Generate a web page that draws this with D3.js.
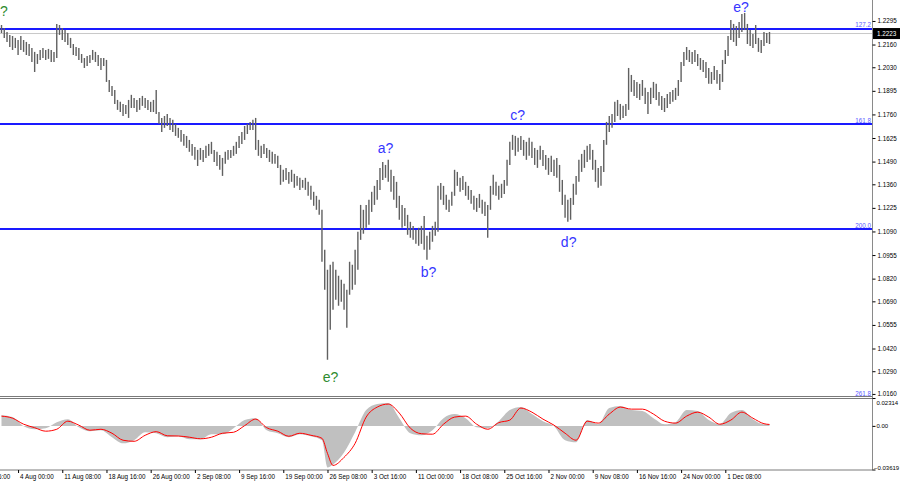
<!DOCTYPE html>
<html><head><meta charset="utf-8">
<script src="https://cdn.jsdelivr.net/npm/d3@7"></script>
<style>
body{margin:0;background:#fff;}
svg{display:block;font-family:"Liberation Sans",Arial,sans-serif;}
</style>
</head><body>
<svg id="c" width="900" height="485"></svg>
<script>
// ---------- DATA ----------
const highs=[1.2272,1.2255,1.2232,1.2215,1.2209,1.2198,1.2186,1.2209,1.2186,1.2175,
1.2163,1.2140,1.2118,1.2106,1.2129,1.2140,1.2129,1.2135,1.2129,1.2118,
1.2278,1.2272,1.2255,1.2243,1.2226,1.2198,1.2163,1.2146,1.2140,1.2106,
1.2083,1.2095,1.2100,1.2129,1.2118,1.2100,1.2083,1.2083,1.2072,1.1957,
1.1923,1.1900,1.1843,1.1832,1.1820,1.1814,1.1843,1.1872,1.1854,1.1843,
1.1854,1.1866,1.1854,1.1843,1.1832,1.1843,1.1900,1.1774,1.1740,1.1751,
1.1763,1.1740,1.1729,1.1706,1.1683,1.1671,1.1648,1.1637,1.1614,1.1591,
1.1574,1.1557,1.1568,1.1557,1.1580,1.1591,1.1603,1.1557,1.1546,1.1528,
1.1511,1.1546,1.1557,1.1557,1.1580,1.1603,1.1637,1.1660,1.1694,1.1706,
1.1717,1.1729,1.1740,1.1614,1.1580,1.1591,1.1568,1.1557,1.1546,1.1534,
1.1523,1.1471,1.1443,1.1454,1.1431,1.1443,1.1420,1.1408,1.1397,1.1385,
1.1397,1.1374,1.1351,1.1317,1.1294,1.1271,1.1214,1.0985,1.0871,1.0899,
1.0916,1.0871,1.0836,1.0813,1.0790,1.0756,1.0916,1.0899,1.0985,1.1088,
1.1242,1.1214,1.1242,1.1271,1.1317,1.1351,1.1385,1.1454,1.1488,1.1471,
1.1500,1.1443,1.1408,1.1374,1.1294,1.1242,1.1225,1.1185,1.1145,1.1122,
1.1099,1.1111,1.1122,1.1179,1.1065,1.1088,1.1122,1.1145,1.1351,1.1368,
1.1351,1.1300,1.1271,1.1317,1.1443,1.1431,1.1397,1.1408,1.1374,1.1351,
1.1328,1.1294,1.1282,1.1305,1.1271,1.1260,1.1242,1.1351,1.1414,1.1374,
1.1351,1.1363,1.1385,1.1500,1.1603,1.1643,1.1637,1.1626,1.1637,1.1614,
1.1603,1.1626,1.1603,1.1568,1.1557,1.1580,1.1557,1.1528,1.1511,1.1523,
1.1500,1.1511,1.1471,1.1385,1.1300,1.1271,1.1282,1.1363,1.1408,1.1500,
1.1534,1.1557,1.1580,1.1591,1.1557,1.1500,1.1454,1.1465,1.1614,1.1717,
1.1751,1.1763,1.1832,1.1843,1.1820,1.1809,1.1820,1.2026,1.1986,1.1957,
1.1946,1.1935,1.1957,1.1912,1.1889,1.1912,1.1946,1.1935,1.1889,1.1866,
1.1854,1.1877,1.1889,1.1900,1.1912,1.1957,1.2060,1.2118,1.2146,1.2129,
1.2118,1.2129,1.2106,1.2083,1.2072,1.2060,1.2026,1.2003,1.2037,1.2015,
1.1992,1.2072,1.2129,1.2209,1.2301,1.2278,1.2266,1.2289,1.2335,1.2341,
1.2278,1.2243,1.2221,1.2272,1.2198,1.2186,1.2232,1.2226,1.2232];
const lows=[1.2226,1.2198,1.2175,1.2146,1.2129,1.2140,1.2100,1.2129,1.2118,1.2100,
1.2095,1.2060,1.2003,1.2049,1.2072,1.2083,1.2072,1.2078,1.2060,1.2060,
1.2083,1.2215,1.2186,1.2175,1.2158,1.2140,1.2100,1.2095,1.2072,1.2055,
1.2026,1.2037,1.2055,1.2072,1.2060,1.2037,1.2015,1.2037,1.1946,1.1889,
1.1866,1.1820,1.1786,1.1774,1.1751,1.1763,1.1740,1.1797,1.1797,1.1774,
1.1786,1.1809,1.1797,1.1786,1.1774,1.1774,1.1763,1.1706,1.1660,1.1683,
1.1694,1.1671,1.1660,1.1637,1.1626,1.1603,1.1580,1.1568,1.1546,1.1523,
1.1500,1.1465,1.1500,1.1488,1.1511,1.1523,1.1534,1.1488,1.1465,1.1443,
1.1408,1.1477,1.1500,1.1511,1.1523,1.1534,1.1568,1.1591,1.1614,1.1648,
1.1671,1.1671,1.1557,1.1523,1.1511,1.1534,1.1511,1.1488,1.1477,1.1477,
1.1454,1.1357,1.1374,1.1385,1.1363,1.1374,1.1340,1.1351,1.1328,1.1340,
1.1328,1.1294,1.1271,1.1237,1.1214,1.1185,1.0916,1.0756,1.0356,1.0527,
1.0642,1.0699,1.0665,1.0688,1.0642,1.0539,1.0728,1.0756,1.0785,1.0871,
1.1042,1.1077,1.1111,1.1128,1.1202,1.1242,1.1271,1.1328,1.1385,1.1397,
1.1374,1.1317,1.1271,1.1225,1.1157,1.1111,1.1122,1.1071,1.1054,1.1042,
1.1019,1.1008,1.1019,1.0985,1.0928,1.0985,1.1031,1.1065,1.1088,1.1271,
1.1242,1.1214,1.1202,1.1237,1.1294,1.1351,1.1317,1.1328,1.1294,1.1271,
1.1248,1.1214,1.1202,1.1225,1.1191,1.1179,1.1054,1.1214,1.1300,1.1294,
1.1271,1.1282,1.1305,1.1351,1.1471,1.1557,1.1523,1.1546,1.1557,1.1523,
1.1500,1.1523,1.1511,1.1471,1.1454,1.1500,1.1465,1.1443,1.1414,1.1431,
1.1408,1.1397,1.1317,1.1242,1.1168,1.1145,1.1157,1.1242,1.1300,1.1374,
1.1431,1.1454,1.1488,1.1500,1.1443,1.1374,1.1340,1.1351,1.1431,1.1586,
1.1660,1.1683,1.1717,1.1751,1.1729,1.1740,1.1751,1.1786,1.1889,1.1866,
1.1854,1.1843,1.1866,1.1820,1.1763,1.1820,1.1854,1.1843,1.1809,1.1786,
1.1774,1.1797,1.1820,1.1832,1.1843,1.1866,1.1946,1.2037,1.2072,1.2060,
1.2049,1.2060,1.2037,1.2015,1.2003,1.1969,1.1935,1.1935,1.1957,1.1935,
1.1900,1.1946,1.2049,1.2095,1.2186,1.2175,1.2152,1.2198,1.2232,1.2243,
1.2163,1.2152,1.2140,1.2163,1.2118,1.2112,1.2152,1.2169,1.2163];
const lastClose=1.2223;

const priceTicks=[1.2295,1.2160,1.2030,1.1895,1.1760,1.1625,1.1490,1.1360,1.1225,1.1090,1.0955,1.0820,1.0690,1.0555,1.0420,1.0290,1.0160];

const fibLevels=["127.2","161.8","200.0","261.8"];
const fibPrices=[1.2249,1.1705,1.1104,1.0132];

const dateLabels=["28 Jul 16:00","4 Aug 00:00","11 Aug 08:00","18 Aug 16:00","26 Aug 00:00","2 Sep 08:00","9 Sep 16:00","19 Sep 00:00","26 Sep 08:00","3 Oct 16:00","11 Oct 00:00","18 Oct 08:00","25 Oct 16:00","2 Nov 00:00","9 Nov 08:00","16 Nov 16:00","24 Nov 00:00","1 Dec 08:00"];

const macdBars=[0,4,8,12,16,20,24,28,32,36,40,44,48,52,56,60,64,68,72,76,80,84,88,92,96,100,104,108,112,116,118,120,124,128,132,136,140,144,148,152,156,160,164,168,172,176,180,184,188,192,196,200,204,208,212,216,220,224,228,232,236,240,244,248,252,256,260,264,268,272,276,278];
const macdMain=[0.0089,0.0073,-0.0003,-0.0028,-0.0019,0.0031,0.0056,-0.0011,-0.0044,-0.0036,-0.0094,-0.0145,-0.0119,-0.0053,-0.0061,-0.0094,-0.0086,-0.0111,-0.0111,-0.0069,-0.0069,-0.0019,0.0048,0.0064,-0.0036,-0.0061,-0.0094,-0.0069,-0.0086,-0.0119,-0.0345,-0.0320,-0.0220,-0.0053,0.0131,0.0181,0.0190,0.0064,-0.0061,-0.0078,-0.0036,0.0064,0.0098,0.0064,-0.0011,-0.0019,0.0039,0.0131,0.0156,0.0098,0.0039,-0.0003,-0.0119,-0.0136,0.0048,0.0014,0.0148,0.0165,0.0131,0.0123,0.0064,0.0014,0.0031,0.0131,0.0123,0.0048,0.0014,0.0106,0.0131,0.0056,0.0014,0.0014];
const macdSignal=[0.0081,0.0064,0.0014,-0.0015,-0.0044,-0.0028,0.0039,0.0006,-0.0036,-0.0028,-0.0061,-0.0119,-0.0128,-0.0078,-0.0048,-0.0082,-0.0084,-0.0094,-0.0107,-0.0094,-0.0061,-0.0053,0.0002,0.0056,-0.0015,-0.0044,-0.0086,-0.0061,-0.0078,-0.0103,-0.0228,-0.0328,-0.0261,-0.0145,0.0073,0.0156,0.0181,0.0106,-0.0019,-0.0065,-0.0069,0.0014,0.0073,0.0081,0.0014,-0.0028,0.0027,0.0048,0.0148,0.0114,0.0056,0.0006,-0.0061,-0.0119,0.0039,0.0023,0.0098,0.0156,0.0139,0.0139,0.0098,0.0039,0.0023,0.0081,0.0114,0.0073,0.0014,0.0048,0.0114,0.0064,0.0018,0.0012];
const macdTicks=[0.02314,0,-0.03619];

const waveText=["?","e?","a?","b?","c?","d?","e?"];
const waveBar=[0.9,267.7,139.0,154.6,186.8,205.3,119.1];
const wavePrice=[1.2323,1.2345,1.1540,1.0831,1.1729,1.1002,1.0230];
const waveDegree=["prev","cur","cur","cur","cur","cur","prev"];

// ---------- LAYOUT ----------
const plotR=872, mainBot=395.5, indTop=398, indBot=469.5;
const svg=d3.select("#c");
const x=d3.scaleLinear().domain([0,highs.length-1]).range([1.5,769.5]);
const y=d3.scaleLinear().domain([1.0151,1.2415]).range([mainBot,0]);
const ym=d3.scaleLinear().domain([-0.03619,0.02314]).range([indBot,indTop]);
const smallFont="6.3px";

svg.append("defs").append("clipPath").attr("id","mainClip")
  .append("rect").attr("x",0).attr("y",0).attr("width",plotR).attr("height",mainBot);
svg.append("defs").append("clipPath").attr("id","indClip")
  .append("rect").attr("x",0).attr("y",indTop).attr("width",plotR).attr("height",indBot-indTop);

const main=svg.append("g").attr("clip-path","url(#mainClip)");

// current price line
main.append("line").attr("x1",0).attr("x2",plotR)
  .attr("y1",y(lastClose)).attr("y2",y(lastClose))
  .attr("stroke","#c8c8c8").attr("stroke-width",1);

// fib lines
main.selectAll("line.fib").data(fibPrices).join("line").attr("class","fib")
  .attr("x1",0).attr("x2",plotR).attr("y1",d=>y(d)).attr("y2",d=>y(d))
  .attr("stroke","#1a1aff").attr("stroke-width",2);

// bars
main.selectAll("line.bar").data(highs).join("line").attr("class","bar")
  .attr("x1",(d,i)=>x(i)).attr("x2",(d,i)=>x(i))
  .attr("y1",d=>y(d)).attr("y2",(d,i)=>y(lows[i]))
  .attr("stroke","#606060").attr("stroke-width",1.4);

// wave labels (outside clip so they stay whole)
svg.selectAll("text.wave").data(waveText).join("text").attr("class","wave")
  .attr("x",(d,i)=>x(waveBar[i])).attr("y",(d,i)=>y(wavePrice[i]))
  .attr("text-anchor","middle").attr("font-size","14px")
  .attr("fill",(d,i)=>waveDegree[i]==="cur"?"#3636ff":"#2e8b2e")
  .text(d=>d);

// fib labels
svg.selectAll("text.fibl").data(fibLevels).join("text").attr("class","fibl")
  .attr("x",plotR-1).attr("y",(d,i)=>Math.min(y(fibPrices[i])-1.5,396))
  .attr("text-anchor","end").attr("font-size",smallFont).attr("fill","#5a5aff")
  .text(d=>d);

// indicator
const ind=svg.append("g").attr("clip-path","url(#indClip)");
const pts=macdBars.map((b,i)=>({b,m:macdMain[i],s:macdSignal[i]}));
ind.append("path").datum(pts)
  .attr("d",d3.area().x(d=>x(d.b)).y0(ym(0)).y1(d=>ym(d.m)).curve(d3.curveMonotoneX))
  .attr("fill","#c0c0c0");
ind.append("path").datum(pts)
  .attr("d",d3.line().x(d=>x(d.b)).y(d=>ym(d.s)).curve(d3.curveMonotoneX))
  .attr("fill","none").attr("stroke","#ff0000").attr("stroke-width",1);

// frames
svg.append("line").attr("x1",0).attr("x2",plotR+0.5).attr("y1",396.5).attr("y2",396.5).attr("stroke","#7a7a7a");
svg.append("rect").attr("x",-1).attr("y",indTop+0.5).attr("width",plotR+1.5).attr("height",indBot-indTop)
  .attr("fill","none").attr("stroke","#7a7a7a");
svg.append("line").attr("x1",plotR+0.5).attr("x2",plotR+0.5).attr("y1",0).attr("y2",indBot+0.5).attr("stroke","#8a8a8a");

// price axis
const pa=svg.append("g").attr("transform",`translate(${plotR+0.5},0)`)
  .call(d3.axisRight(y).tickValues(priceTicks).tickSize(3).tickPadding(2).tickFormat(d3.format(".4f")));
pa.select(".domain").remove();
pa.selectAll("text").attr("font-size",smallFont).attr("font-family","Liberation Sans, Arial, sans-serif").attr("fill","#000");
pa.selectAll("line").attr("stroke","#000");

// current price box
const pb=svg.append("g").attr("transform",`translate(${plotR+1},${y(lastClose)})`);
pb.append("rect").attr("x",0).attr("y",-5.5).attr("width",27).attr("height",11).attr("fill","#000");
pb.append("text").attr("x",4).attr("y",2.3).attr("fill","#fff").attr("font-size",smallFont).text(d3.format(".4f")(lastClose));

// macd axis
const ma=svg.append("g").attr("transform",`translate(${plotR+0.5},0)`)
  .call(d3.axisRight(ym).tickValues(macdTicks).tickSize(3).tickPadding(1)
    .tickFormat(d=>d===0?"0.00":d3.format(".5f")(d)));
ma.select(".domain").remove();
ma.selectAll("line").attr("stroke","#000");
ma.selectAll("text").attr("font-size","6px").attr("font-family","Liberation Sans, Arial, sans-serif").attr("fill","#000")
  .attr("dx",d=>d<0?-2.5:0)
  .attr("dy",(d)=>d>0?"1.1em":d<0?"0.0em":"0.32em");

// time axis
const labelBars=dateLabels.map((l,k)=>6+16*(k-1));
const ta=svg.append("g").attr("transform",`translate(0,${indBot+0.5})`)
  .call(d3.axisBottom(x).tickValues(labelBars).tickSize(3).tickPadding(3)
    .tickFormat((d,i)=>dateLabels[i]));
ta.select(".domain").remove();
ta.selectAll("line").attr("stroke","#000");
ta.selectAll("text").attr("font-size",smallFont).attr("font-family","Liberation Sans, Arial, sans-serif").attr("fill","#000")
  .attr("text-anchor","start").attr("dx","1.5").attr("y",5).attr("dy","0.71em");
</script>
</body></html>
